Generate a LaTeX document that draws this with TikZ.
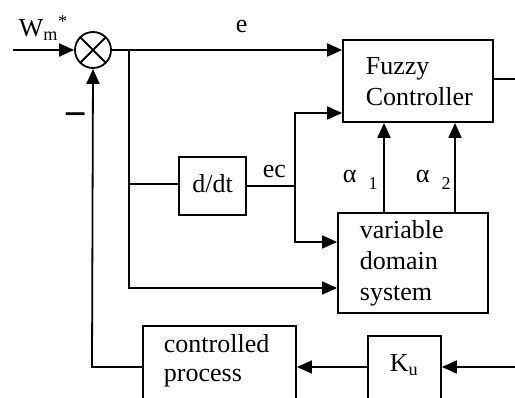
\documentclass[tikz,border=0pt]{standalone}
\usepackage{fontspec}
\setmainfont{Liberation Serif}
\usetikzlibrary{arrows.meta}
\begin{document}
\begin{tikzpicture}[x=1pt,y=-1pt,line width=1.8pt,
  box/.style={draw,rectangle,inner sep=0pt},
  lbl/.style={anchor=base west,inner sep=0pt,font=\fontsize{26}{31}\selectfont},
  arr/.style={-{Triangle[length=15pt,width=13pt]}}]
\useasboundingbox (0,0) rectangle (515,398);
\clip (0,0) rectangle (515,398);

% summing junction
\node[circle,draw,minimum size=36pt,inner sep=0pt] (sum) at (93,50) {};
\draw (sum.north west) -- (sum.south east) (sum.north east) -- (sum.south west);

% blocks
\node[box,minimum width=150pt,minimum height=82pt] (fz) at (418,81) {};
\node[box,minimum width=150pt,minimum height=100pt] (vds) at (413,263) {};
\node[box,minimum width=67pt,minimum height=58pt] (ddt) at (212.5,186) {};
\node[box,minimum width=153pt,minimum height=104pt] (proc) at (219.5,378) {};
\node[box,minimum width=73pt,minimum height=94pt] (ku) at (404.5,383) {};

% texts
\node[lbl] (tw) at (18,37) {W\textsubscript{m}\textsuperscript{*}};
\node[lbl] (te) at (235,33) {e};
\node[lbl] (tec) at (262,178) {ec};
\node[lbl] (ta1) at (342,183) {α\hspace{12pt}\raisebox{-7pt}{\fontsize{18}{20}\selectfont 1}};
\node[lbl] (ta2) at (415,183) {α\hspace{12pt}\raisebox{-7pt}{\fontsize{18}{20}\selectfont 2}};
\node[lbl,anchor=base] (tddt) at (212.5,193) {d/dt};
\node[lbl] (tf1) at (365,75) {Fuzzy};
\node[lbl] (tf2) at (365,106) {Controller};
\node[lbl] (tv1) at (359,239) {variable};
\node[lbl] (tv2) at (359,270) {domain};
\node[lbl] (tv3) at (359,301) {system};
\node[lbl] (tp1) at (163,353) {controlled};
\node[lbl] (tp2) at (163,382) {process};
\node[lbl] (tk) at (389,372) {K\textsubscript{u}};
\node[lbl,anchor=center] (tminus) at (76,120) {\scalebox{1.4}[2.2]{\textendash}};

% connection points
\coordinate (in) at (13,50);
\coordinate (j1) at (129,50);
\coordinate (j2) at (129,184);
\coordinate (j3) at (129,288);
\coordinate (k1) at (295,186);
\coordinate (k2) at (295,113);
\coordinate (k3) at (295,242);
\coordinate (out) at (515,79);
\coordinate (uin) at (515,367);
\coordinate (fb) at (92,367);

% signal lines
\draw[arr] (in) -- (sum.west);
\draw[arr] (sum.east) -- (fz.west |- sum.east);
\draw[arr] (j1) -- (j3) -- (vds.west |- j3);
\draw (j2) -- (ddt.west |- j2);
\draw (ddt.east |- k1) -- (k1);
\draw[arr] (k1) -- (k2) -- (fz.west |- k2);
\draw[arr] (k1) -- (k3) -- (vds.west |- k3);
\draw[arr] (vds.north -| 384,0) -- (fz.south -| 384,0);
\draw[arr] (vds.north -| 455,0) -- (fz.south -| 455,0);
\draw (fz.east |- out) -- (out);
\draw[arr] (uin) -- (ku.east |- uin);
\draw[arr] (ku.west |- uin) -- (proc.east |- uin);
\draw[arr] (proc.west |- fb) -- (fb) -- (sum.south);
\end{tikzpicture}
\end{document}
